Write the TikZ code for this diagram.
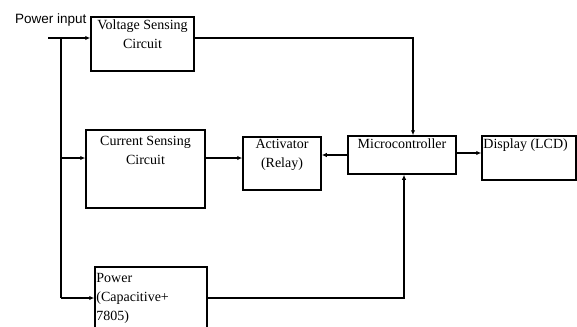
\documentclass[tikz,border=0pt]{standalone}
\usepackage{fontspec}
\setmainfont{Liberation Serif}
\newfontfamily\sansf{Liberation Sans}
\usepackage{tikz}
\usetikzlibrary{positioning,arrows.meta}

\begin{document}
\begin{tikzpicture}[
  x=1pt, y=-1pt,
  box/.style={draw, rectangle, line width=1.5pt, inner sep=0pt},
  txt/.style={font=\fontsize{14}{19}\selectfont, align=center, inner sep=2pt},
  wire/.style={line width=1.4pt},
  arr/.style={wire, -{Latex[length=5pt,width=4.5pt]}}
]
\clip (0,0) rectangle (577,326);

% Blocks
\node[box, minimum width=103pt, minimum height=54pt] (volt) at (142.5,44) {};
\node[txt, anchor=north] (voltT) at ([yshift=-1pt]volt.north) {Voltage Sensing\\Circuit};

\node[box, minimum width=119pt, minimum height=78pt] (curr) at (145.5,169) {};
\node[txt, anchor=north] (currT) at ([yshift=-5pt]curr.north) {Current Sensing\\Circuit};

\node[box, minimum width=78pt, minimum height=53pt] (act) at (282,163.5) {};
\node[txt, anchor=north] (actT) at ([yshift=-1pt]act.north) {Activator\\(Relay)};

\node[box, minimum width=108pt, minimum height=38pt] (mcu) at (402,155) {};
\node[txt, anchor=north] (mcuT) at ([yshift=-1pt]mcu.north) {Microcontroller};

\node[box, minimum width=94pt, minimum height=44pt] (disp) at (529,158) {};
\node[txt, anchor=north west] (dispT) at ([yshift=-1pt]disp.north west) {Display (LCD)};

\node[box, minimum width=112pt, minimum height=73pt] (pwr) at (151,303.5) {};
\node[txt, align=left, anchor=north west] (pwrT) at ([yshift=-5pt]pwr.north west) {Power\\(Capacitive+\\7805)};

% Input
\node[anchor=west, inner sep=0pt, font=\sansf\fontsize{13.5}{15}\selectfont] (pin) at (15,20) {Power input};
\coordinate (inp) at (48,38);
\coordinate (jn) at (61,38);
\coordinate (jc) at (61,158);
\coordinate (jp) at (61,298);

% Connections
\draw[arr] (inp) -- (inp -| volt.west);
\draw[wire] (jn) -- (jp);
\draw[arr] (jc) -- (jc -| curr.west);
\draw[arr] (jp) -- (jp -| pwr.west);
\draw[arr] (volt.east |- jn) -| ([xshift=11pt]mcu.north);
\draw[arr] (curr.east |- jc) -- (act.west |- jc);
\draw[arr] (mcu.west) -- (mcu.west -| act.east);
\draw[arr] ([yshift=2pt]mcu.east) -- ([yshift=2pt]mcu.east -| disp.west);
\draw[arr] (pwr.east |- jp) -| ([xshift=2pt]mcu.south);

\end{tikzpicture}
\end{document}
